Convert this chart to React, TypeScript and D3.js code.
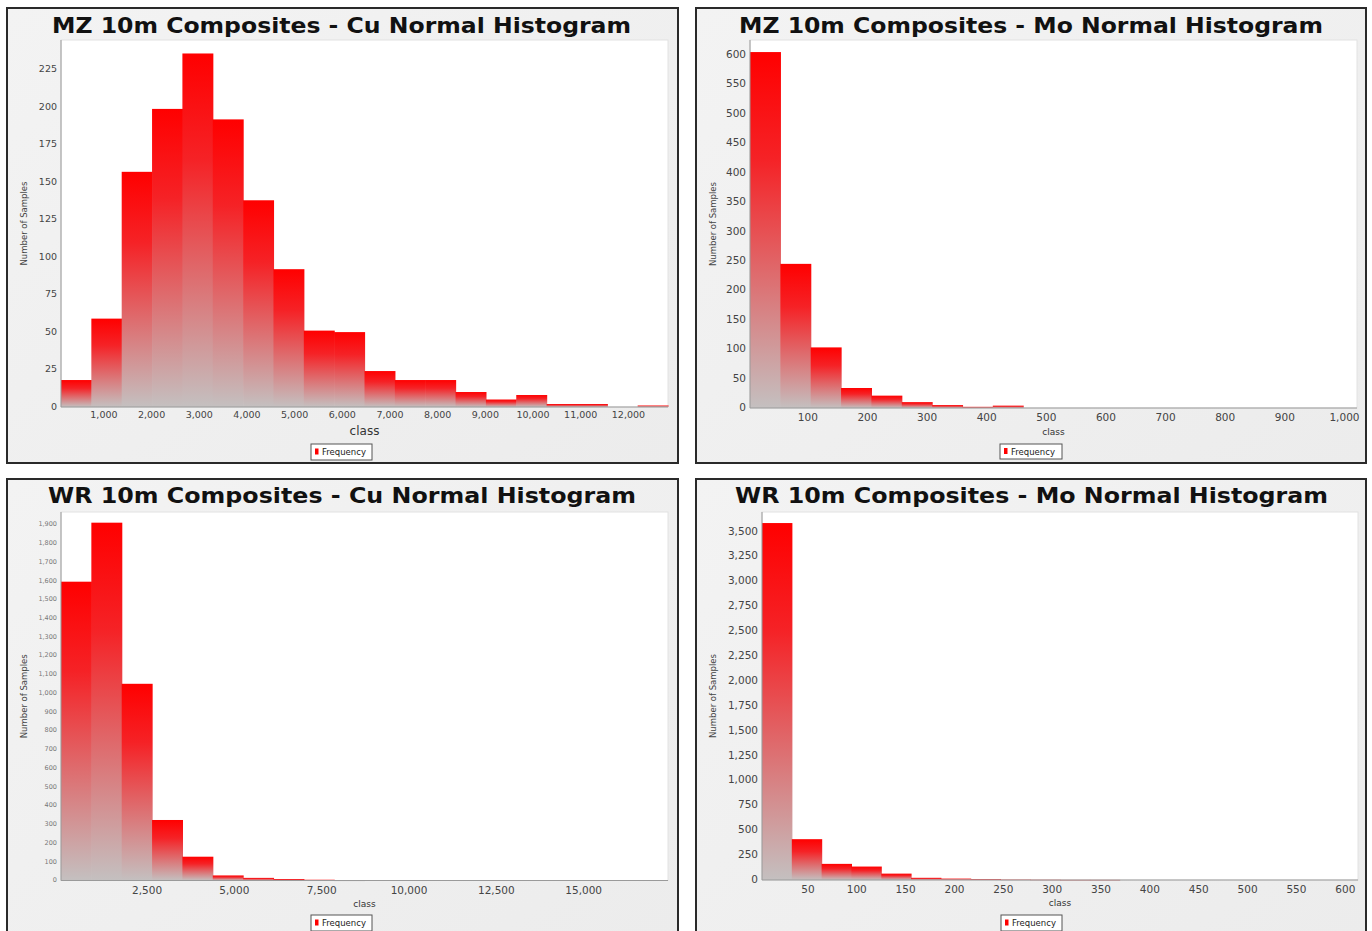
import React from "react";
import * as d3 from "d3";

// ---------- DATA ----------
const mzCuTitle = "MZ 10m Composites - Cu Normal Histogram";
const mzCuRange = [100, 12830];
const mzCuCounts = [18, 59, 157, 199, 236, 192, 138, 92, 51, 50, 24, 18, 18, 10, 5, 8, 2, 2, 0, 1];
const mzCuXTicks = [1000, 2000, 3000, 4000, 5000, 6000, 7000, 8000, 9000, 10000, 11000, 12000];
const mzCuYTicks = [0, 25, 50, 75, 100, 125, 150, 175, 200, 225];

const mzMoTitle = "MZ 10m Composites - Mo Normal Histogram";
const mzMoRange = [3, 1021];
const mzMoCounts = [605, 245, 103, 34, 21, 10, 5, 2, 4, 0, 0, 0, 0, 0, 0, 0, 0, 0, 0, 0];
const mzMoXTicks = [100, 200, 300, 400, 500, 600, 700, 800, 900, 1000];
const mzMoYTicks = [0, 50, 100, 150, 200, 250, 300, 350, 400, 450, 500, 550, 600];

const wrCuTitle = "WR 10m Composites - Cu Normal Histogram";
const wrCuRange = [37, 17414];
const wrCuCounts = [1595, 1910, 1050, 323, 127, 27, 14, 8, 4, 1, 0, 0, 0, 0, 0, 0, 0, 0, 0, 0];
const wrCuXTicks = [2500, 5000, 7500, 10000, 12500, 15000];
const wrCuYTicks = [0, 100, 200, 300, 400, 500, 600, 700, 800, 900, 1000, 1100, 1200, 1300, 1400, 1500, 1600, 1700, 1800, 1900];

const wrMoTitle = "WR 10m Composites - Mo Normal Histogram";
const wrMoRange = [3, 613];
const wrMoCounts = [3585, 410, 162, 135, 64, 22, 14, 10, 3, 2, 1, 1, 0, 0, 0, 0, 0, 0, 0, 0];
const wrMoXTicks = [50, 100, 150, 200, 250, 300, 350, 400, 450, 500, 550, 600];
const wrMoYTicks = [0, 250, 500, 750, 1000, 1250, 1500, 1750, 2000, 2250, 2500, 2750, 3000, 3250, 3500];

const yAxisLabel = "Number of Samples";
const xAxisLabel = "class";
const legendLabel = "Frequency";

// ---------- LAYOUT ----------
type Layout = {
  box: [number, number, number, number];
  plot: [number, number, number, number]; // x0,y0,x1,y1
  yMax: number;
  titleX: number; titleY: number; titleW: number;
  tickFont: number; yTickFont: number; yTickColor: string;
  xTickY: number; classY: number; classFont: number;
  yLabelX: number;
  legend: [number, number, number, number];
};

const FONT = "'DejaVu Sans', Verdana, sans-serif";

function Panel({ id, title, range, counts, xTicks, yTicks, L }: any) {
  const lay: Layout = L;
  const [px0, py0, px1, py1] = lay.plot;
  const x = d3.scaleLinear().domain(range).range([px0, px1]);
  const y = d3.scaleLinear().domain([0, lay.yMax]).range([py1, py0]);
  const n = counts.length;
  const w = (range[1] - range[0]) / n;
  const fmt = d3.format(",");
  const [bx, by, bw, bh] = lay.box;
  const [lx, ly, lw, lh] = lay.legend;
  return (
    <g>
      <defs>
        <linearGradient id={`g-${id}`} x1="0" y1="0" x2="0" y2="1">
          <stop offset="0" stopColor="#ff0000" />
          <stop offset="0.3" stopColor="#f52226" />
          <stop offset="1" stopColor="#c4c0c0" />
        </linearGradient>
        <linearGradient id={`bg-${id}`} x1="0" y1="0" x2="1" y2="1">
          <stop offset="0" stopColor="#f3f3f3" />
          <stop offset="1" stopColor="#ececec" />
        </linearGradient>
      </defs>
      <rect x={bx} y={by} width={bw} height={bh} fill={`url(#bg-${id})`} stroke="#2a2a2a" strokeWidth={2} />
      <text x={lay.titleX} y={lay.titleY} fontFamily={FONT} fontWeight="bold" fontSize={21}
        textLength={lay.titleW} lengthAdjust="spacingAndGlyphs" fill="#111">{title}</text>
      <rect x={px0} y={py0} width={px1 - px0} height={py1 - py0} fill="#ffffff" stroke="#e2e2e2" strokeWidth={1} />
      {counts.map((c: number, i: number) => {
        if (c <= 0) return null;
        const x0 = x(range[0] + i * w);
        const x1 = x(range[0] + (i + 1) * w);
        const yt = y(c);
        return <rect key={i} x={x0} y={yt} width={x1 - x0 + 0.6} height={Math.max(0.8, py1 - yt)} fill={`url(#g-${id})`} />;
      })}
      <line x1={px0} y1={py1} x2={px1} y2={py1} stroke="#9a9a9a" strokeWidth={1} />
      <line x1={px0} y1={py0} x2={px0} y2={py1} stroke="#9a9a9a" strokeWidth={1} />
      {xTicks.map((t: number) => (
        <text key={t} x={x(t)} y={lay.xTickY} textAnchor="middle" dominantBaseline="middle"
          fontFamily={FONT} fontSize={lay.tickFont} fill="#444">{fmt(t)}</text>
      ))}
      {yTicks.map((t: number) => (
        <text key={t} x={px0 - 4} y={y(t)} textAnchor="end" dominantBaseline="middle"
          fontFamily={FONT} fontSize={lay.yTickFont} fill={lay.yTickColor}>{fmt(t)}</text>
      ))}
      <text x={(px0 + px1) / 2} y={lay.classY} textAnchor="middle" dominantBaseline="middle"
        fontFamily={FONT} fontSize={lay.classFont} fill="#333">{xAxisLabel}</text>
      <text transform={`translate(${lay.yLabelX},${(py0 + py1) / 2}) rotate(-90)`} textAnchor="middle"
        dominantBaseline="middle" fontFamily={FONT} fontSize={8.5} fill="#444">{yAxisLabel}</text>
      <rect x={lx} y={ly} width={lw} height={lh} fill="#ffffff" stroke="#555" strokeWidth={1} />
      <rect x={lx + 4} y={ly + lh / 2 - 3.5} width={3.5} height={6} fill="#ff0000" />
      <text x={lx + 11} y={ly + lh / 2 + 0.5} dominantBaseline="middle" fontFamily={FONT} fontSize={8.5} fill="#222">{legendLabel}</text>
    </g>
  );
}

const L1: Layout = {
  box: [7, 8, 671, 455], plot: [61, 40, 668, 407], yMax: 245,
  titleX: 52, titleY: 33, titleW: 579,
  tickFont: 9.5, yTickFont: 9.5, yTickColor: "#444",
  xTickY: 415, classY: 431, classFont: 12, yLabelX: 24,
  legend: [311, 444, 61, 16],
};
const L2: Layout = {
  box: [696, 8, 670, 455], plot: [750, 40, 1357, 408], yMax: 625.5,
  titleX: 739, titleY: 33, titleW: 584,
  tickFont: 10.5, yTickFont: 10.5, yTickColor: "#444",
  xTickY: 418, classY: 432, classFont: 9, yLabelX: 713,
  legend: [1000, 444, 62, 15],
};
const L3: Layout = {
  box: [7, 479, 671, 460], plot: [61, 512, 668, 880.5], yMax: 1967,
  titleX: 48, titleY: 503, titleW: 588,
  tickFont: 10.5, yTickFont: 6.5, yTickColor: "#777",
  xTickY: 890.5, classY: 904, classFont: 9, yLabelX: 24,
  legend: [311, 915, 61, 16],
};
const L4: Layout = {
  box: [696, 479, 670, 460], plot: [762, 512, 1358, 880], yMax: 3696,
  titleX: 735, titleY: 503, titleW: 593,
  tickFont: 10.5, yTickFont: 10.5, yTickColor: "#444",
  xTickY: 889.5, classY: 903, classFont: 9, yLabelX: 713,
  legend: [1001, 915, 61, 16],
};

export default function App() {
  return (
    <svg width={1372} height={931} style={{ position: "absolute", left: 0, top: 0, background: "#fff" }}>
      <Panel id="p1" title={mzCuTitle} range={mzCuRange} counts={mzCuCounts} xTicks={mzCuXTicks} yTicks={mzCuYTicks} L={L1} />
      <Panel id="p2" title={mzMoTitle} range={mzMoRange} counts={mzMoCounts} xTicks={mzMoXTicks} yTicks={mzMoYTicks} L={L2} />
      <Panel id="p3" title={wrCuTitle} range={wrCuRange} counts={wrCuCounts} xTicks={wrCuXTicks} yTicks={wrCuYTicks} L={L3} />
      <Panel id="p4" title={wrMoTitle} range={wrMoRange} counts={wrMoCounts} xTicks={wrMoXTicks} yTicks={wrMoYTicks} L={L4} />
    </svg>
  );
}
